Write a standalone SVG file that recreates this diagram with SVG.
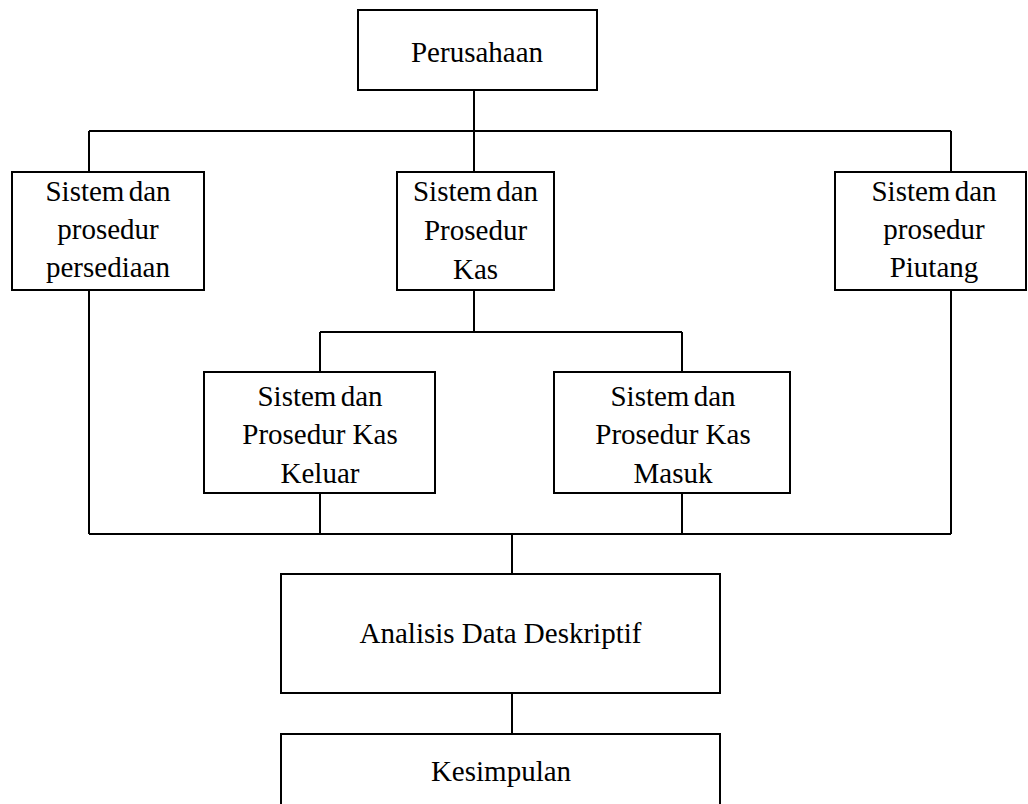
<svg xmlns="http://www.w3.org/2000/svg" width="1028" height="804" viewBox="0 0 1028 804">
<style>
.box{fill:#fff;stroke:#000;stroke-width:2}
.ln{fill:none;stroke:#000;stroke-width:2}
text{font-family:"Liberation Serif","Times New Roman",serif;font-size:29px;fill:#000;text-anchor:middle}
.tight{word-spacing:-3px}
</style>
<rect width="1028" height="804" fill="#fff"/>
<g id="connectors" class="ln">
<path d="M474 90V172"/>
<path d="M89 131H951M89 131V172M951 131V172"/>
<path d="M474 290V332M320 332H682M320 332V372M682 332V372"/>
<path d="M89 290V534M951 290V534M89 534H951"/>
<path d="M320 493V534M682 493V534"/>
<path d="M512 534V574"/>
<path d="M512 693V734"/>
</g>
<g id="perusahaan"><rect class="box" x="358" y="10" width="239" height="80"/><text x="477" y="62">Perusahaan</text></g>
<g id="persediaan"><rect class="box" x="12" y="172" width="192" height="118"/><text class="tight" x="108" y="201">Sistem dan</text><text x="108" y="239">prosedur</text><text x="108" y="277">persediaan</text></g>
<g id="kas"><rect class="box" x="397" y="172" width="157" height="118"/><text class="tight" x="475.5" y="201">Sistem dan</text><text x="475.5" y="240">Prosedur</text><text x="475.5" y="279">Kas</text></g>
<g id="piutang"><rect class="box" x="835" y="172" width="191" height="118"/><text class="tight" x="934" y="201">Sistem dan</text><text x="934" y="239">prosedur</text><text x="934" y="277">Piutang</text></g>
<g id="keluar"><rect class="box" x="204" y="372" width="231" height="121"/><text class="tight" x="320" y="406">Sistem dan</text><text x="320" y="444">Prosedur Kas</text><text x="320" y="483">Keluar</text></g>
<g id="masuk"><rect class="box" x="554" y="372" width="236" height="121"/><text class="tight" x="673" y="406">Sistem dan</text><text x="673" y="444">Prosedur Kas</text><text x="673" y="483">Masuk</text></g>
<g id="analisis"><rect class="box" x="281" y="574" width="439" height="119"/><text x="500.5" y="643">Analisis Data Deskriptif</text></g>
<g id="kesimpulan"><rect class="box" x="281" y="734" width="439" height="90"/><text x="501" y="781">Kesimpulan</text></g>
</svg>
